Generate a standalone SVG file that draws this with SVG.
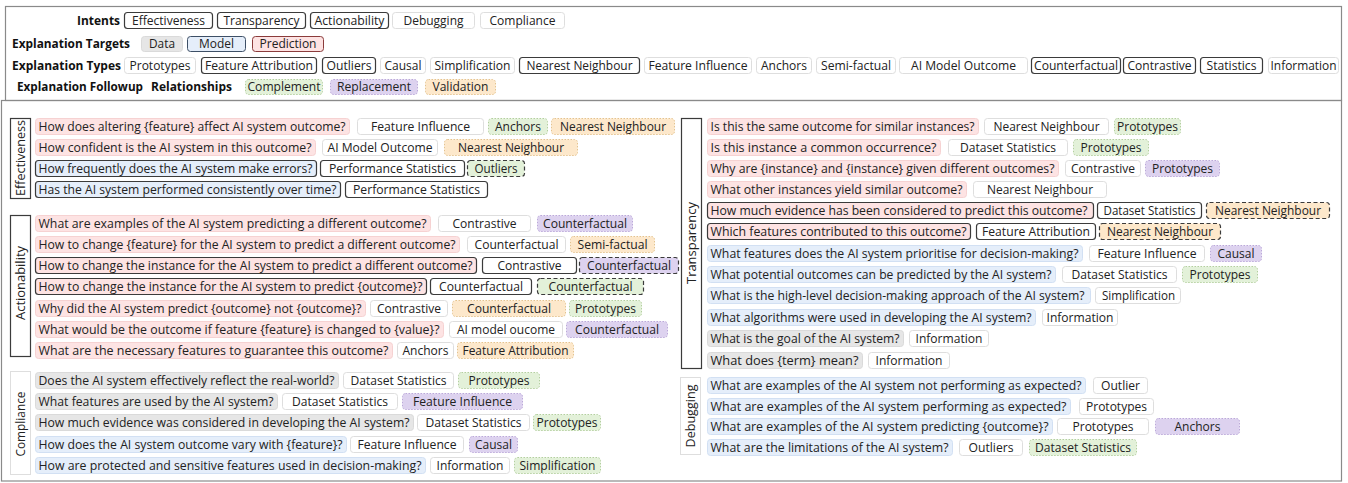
<svg xmlns="http://www.w3.org/2000/svg" width="1348" height="483" viewBox="0 0 1348 483">
<style>
rect{rx:3px;ry:3px;stroke-width:1}
rect.frame{fill:none;stroke:#8a8a8a;stroke-width:1.2;rx:0;ry:0}
rect.p{fill:#fde3e3;stroke:#f6d2d2}
rect.u{fill:#e5eefa;stroke:#d2e0f3}
rect.g{fill:#e6e6e6;stroke:#dadada}
rect.w{fill:#fff;stroke:#dedede}
rect.gr{fill:#e3f1d9;stroke:#b3cf9f;stroke-dasharray:1.5 1.5}
rect.pu{fill:#ddd2ef;stroke:#bba8d9;stroke-dasharray:1.5 1.5}
rect.or{fill:#fde8cb;stroke:#e4c38e;stroke-dasharray:1.5 1.5}
rect.dk{stroke:#3b3b3b;stroke-width:1.2}
rect.ds{stroke:#3b3b3b;stroke-width:1.2;stroke-dasharray:4 2.5}
rect.lbl{fill:#fff;rx:0;ry:0}
text{font-family:"Open Sans","Liberation Sans",sans-serif;font-size:13px;fill:#222}
text.c{text-anchor:middle}
text.b{font-weight:bold;fill:#111}
</style>
<rect class="frame" x="5.5" y="6.5" width="1336" height="94"/>
<rect class="frame" x="1.5" y="100.5" width="1340" height="380.5"/>
<g id="connectors"/>
<g id="legend">
<g id="legend-intents">
<text class="b" x="77" y="25" textLength="43" lengthAdjust="spacingAndGlyphs">Intents</text>
<rect class="w dk" x="124.5" y="12.5" width="88" height="16"/><text class="c" x="168.5" y="25" textLength="73" lengthAdjust="spacingAndGlyphs">Effectiveness</text>
<rect class="w dk" x="217.5" y="12.5" width="88" height="16"/><text class="c" x="261.5" y="25" textLength="76" lengthAdjust="spacingAndGlyphs">Transparency</text>
<rect class="w dk" x="310.5" y="12.5" width="78" height="16"/><text class="c" x="349.5" y="25" textLength="70" lengthAdjust="spacingAndGlyphs">Actionability</text>
<rect class="w" x="392.5" y="12.5" width="82" height="16"/><text class="c" x="433.5" y="25" textLength="60" lengthAdjust="spacingAndGlyphs">Debugging</text>
<rect class="w" x="480.5" y="12.5" width="84" height="16"/><text class="c" x="522.5" y="25" textLength="66" lengthAdjust="spacingAndGlyphs">Compliance</text>
</g>
<g id="legend-targets">
<text class="b" x="12" y="48" textLength="118" lengthAdjust="spacingAndGlyphs">Explanation Targets</text>
<rect class="g" x="141.5" y="36.5" width="41" height="15"/><text class="c" x="162" y="48" textLength="26" lengthAdjust="spacingAndGlyphs">Data</text>
<rect class="u" style="stroke:#3d4f66" x="187.5" y="36.5" width="58" height="15"/><text class="c" x="216.5" y="48" textLength="35" lengthAdjust="spacingAndGlyphs">Model</text>
<rect class="p" style="stroke:#8b3b3b" x="252.5" y="36.5" width="71" height="15"/><text class="c" x="288" y="48" textLength="57" lengthAdjust="spacingAndGlyphs">Prediction</text>
</g>
<g id="legend-types">
<text class="b" x="12" y="70" textLength="109" lengthAdjust="spacingAndGlyphs">Explanation Types</text>
<rect class="w" x="124.5" y="57.5" width="71" height="16"/><text class="c" x="160" y="70" textLength="61" lengthAdjust="spacingAndGlyphs">Prototypes</text>
<rect class="w dk" x="201.5" y="57.5" width="115" height="16"/><text class="c" x="259" y="70" textLength="108" lengthAdjust="spacingAndGlyphs">Feature Attribution</text>
<rect class="w dk" x="322.5" y="57.5" width="53" height="16"/><text class="c" x="349" y="70" textLength="45" lengthAdjust="spacingAndGlyphs">Outliers</text>
<rect class="w" x="380.5" y="57.5" width="45" height="16"/><text class="c" x="403" y="70" textLength="37" lengthAdjust="spacingAndGlyphs">Causal</text>
<rect class="w" x="430.5" y="57.5" width="84" height="16"/><text class="c" x="472.5" y="70" textLength="76" lengthAdjust="spacingAndGlyphs">Simplification</text>
<rect class="w dk" x="519.5" y="57.5" width="120" height="16"/><text class="c" x="579.5" y="70" textLength="106" lengthAdjust="spacingAndGlyphs">Nearest Neighbour</text>
<rect class="w" x="644.5" y="57.5" width="107" height="16"/><text class="c" x="698" y="70" textLength="99" lengthAdjust="spacingAndGlyphs">Feature Influence</text>
<rect class="w" x="756.5" y="57.5" width="55" height="16"/><text class="c" x="784" y="70" textLength="46" lengthAdjust="spacingAndGlyphs">Anchors</text>
<rect class="w" x="816.5" y="57.5" width="79" height="16"/><text class="c" x="856" y="70" textLength="70" lengthAdjust="spacingAndGlyphs">Semi-factual</text>
<rect class="w" x="899.5" y="57.5" width="128" height="16"/><text class="c" x="963.5" y="70" textLength="105" lengthAdjust="spacingAndGlyphs">AI Model Outcome</text>
<rect class="w dk" x="1031.5" y="57.5" width="89" height="16"/><text class="c" x="1076" y="70" textLength="84" lengthAdjust="spacingAndGlyphs">Counterfactual</text>
<rect class="w dk" x="1123.5" y="57.5" width="72" height="16"/><text class="c" x="1159.5" y="70" textLength="64" lengthAdjust="spacingAndGlyphs">Contrastive</text>
<rect class="w dk" x="1200.5" y="57.5" width="62" height="16"/><text class="c" x="1231.5" y="70" textLength="50" lengthAdjust="spacingAndGlyphs">Statistics</text>
<rect class="w" x="1268.5" y="57.5" width="70" height="16"/><text class="c" x="1303.5" y="70" textLength="66" lengthAdjust="spacingAndGlyphs">Information</text>
</g>
<g id="legend-followup">
<text class="b" x="17" y="91" textLength="126" lengthAdjust="spacingAndGlyphs">Explanation Followup</text>
<text class="b" x="151" y="91" textLength="81" lengthAdjust="spacingAndGlyphs">Relationships</text>
<rect class="gr" x="245.5" y="79.5" width="77" height="15"/><text class="c" x="284" y="91" textLength="73" lengthAdjust="spacingAndGlyphs">Complement</text>
<rect class="pu" x="330.5" y="79.5" width="87" height="15"/><text class="c" x="374" y="91" textLength="74" lengthAdjust="spacingAndGlyphs">Replacement</text>
<rect class="or" x="425.5" y="79.5" width="70" height="15"/><text class="c" x="460.5" y="91" textLength="56" lengthAdjust="spacingAndGlyphs">Validation</text>
</g>
</g>

<g id="effectiveness">
<g id="label-effectiveness"><rect class="lbl dk" x="10.5" y="118.5" width="20" height="80"/><text class="c" x="20.5" y="162.5" transform="rotate(-90 20.5 158)" textLength="76" lengthAdjust="spacingAndGlyphs">Effectiveness</text></g>
<g id="e1q"><rect class="p" x="35.5" y="118.5" width="314" height="16"/><text x="38.5" y="131" textLength="307" lengthAdjust="spacingAndGlyphs">How does altering {feature} affect AI system outcome?</text></g>
<g id="e1a"><rect class="w" x="357.5" y="118.5" width="126" height="16"/><text class="c" x="420.5" y="131" textLength="99" lengthAdjust="spacingAndGlyphs">Feature Influence</text></g>
<g id="e1b"><rect class="gr" x="488.5" y="118.5" width="59" height="16"/><text class="c" x="518" y="131" textLength="46" lengthAdjust="spacingAndGlyphs">Anchors</text></g>
<g id="e1c"><rect class="or" x="551.5" y="118.5" width="123" height="16"/><text class="c" x="613" y="131" textLength="106" lengthAdjust="spacingAndGlyphs">Nearest Neighbour</text></g>
<g id="e2q"><rect class="p" x="35.5" y="139.5" width="280" height="16"/><text x="38.5" y="152" textLength="273" lengthAdjust="spacingAndGlyphs">How confident is the AI system in this outcome?</text></g>
<g id="e2a"><rect class="w" x="322.5" y="139.5" width="115" height="16"/><text class="c" x="380" y="152" textLength="105" lengthAdjust="spacingAndGlyphs">AI Model Outcome</text></g>
<g id="e2b"><rect class="or" x="444.5" y="139.5" width="133" height="16"/><text class="c" x="511" y="152" textLength="106" lengthAdjust="spacingAndGlyphs">Nearest Neighbour</text></g>
<g id="e3q"><rect class="u dk" x="35.5" y="160.5" width="281" height="16"/><text x="38.5" y="173" textLength="274" lengthAdjust="spacingAndGlyphs">How frequently does the AI system make errors?</text></g>
<g id="e3a"><rect class="w dk" x="320.5" y="160.5" width="144" height="16"/><text class="c" x="392.5" y="173" textLength="127" lengthAdjust="spacingAndGlyphs">Performance Statistics</text></g>
<g id="e3b"><rect class="gr ds" x="467.5" y="160.5" width="57" height="16"/><text class="c" x="496" y="173" textLength="43" lengthAdjust="spacingAndGlyphs">Outliers</text></g>
<g id="e4q"><rect class="u dk" x="35.5" y="181.5" width="305" height="16"/><text x="38.5" y="194" textLength="298" lengthAdjust="spacingAndGlyphs">Has the AI system performed consistently over time?</text></g>
<g id="e4a"><rect class="w dk" x="345.5" y="181.5" width="142" height="16"/><text class="c" x="416.5" y="194" textLength="127" lengthAdjust="spacingAndGlyphs">Performance Statistics</text></g>
</g>

<g id="actionability">
<g id="label-actionability"><rect class="lbl dk" x="10.5" y="215.5" width="20" height="141"/><text class="c" x="20.5" y="287.5" transform="rotate(-90 20.5 283)" textLength="74" lengthAdjust="spacingAndGlyphs">Actionability</text></g>
<g id="a1q"><rect class="p" x="35.5" y="215.5" width="395" height="16"/><text x="38.5" y="228" textLength="388" lengthAdjust="spacingAndGlyphs">What are examples of the AI system predicting a different outcome?</text></g>
<g id="a1a"><rect class="w" x="438.5" y="215.5" width="92" height="16"/><text class="c" x="484.5" y="228" textLength="64" lengthAdjust="spacingAndGlyphs">Contrastive</text></g>
<g id="a1b"><rect class="pu" x="537.5" y="215.5" width="95" height="16"/><text class="c" x="585" y="228" textLength="84" lengthAdjust="spacingAndGlyphs">Counterfactual</text></g>
<g id="a2q"><rect class="p" x="35.5" y="236.5" width="424" height="16"/><text x="38.5" y="249" textLength="417" lengthAdjust="spacingAndGlyphs">How to change {feature} for the AI system to predict a different outcome?</text></g>
<g id="a2a"><rect class="w" x="467.5" y="236.5" width="98" height="16"/><text class="c" x="516.5" y="249" textLength="84" lengthAdjust="spacingAndGlyphs">Counterfactual</text></g>
<g id="a2b"><rect class="or" x="570.5" y="236.5" width="84" height="16"/><text class="c" x="612.5" y="249" textLength="70" lengthAdjust="spacingAndGlyphs">Semi-factual</text></g>
<g id="a3q"><rect class="p dk" x="35.5" y="257.5" width="441" height="16"/><text x="38.5" y="270" textLength="434" lengthAdjust="spacingAndGlyphs">How to change the instance for the AI system to predict a different outcome?</text></g>
<g id="a3a"><rect class="w dk" x="482.5" y="257.5" width="94" height="16"/><text class="c" x="529.5" y="270" textLength="64" lengthAdjust="spacingAndGlyphs">Contrastive</text></g>
<g id="a3b"><rect class="pu ds" x="579.5" y="257.5" width="99" height="16"/><text class="c" x="629" y="270" textLength="84" lengthAdjust="spacingAndGlyphs">Counterfactual</text></g>
<g id="a4q"><rect class="p dk" x="35.5" y="278.5" width="391" height="16"/><text x="38.5" y="291" textLength="384" lengthAdjust="spacingAndGlyphs">How to change the instance for the AI system to predict {outcome}?</text></g>
<g id="a4a"><rect class="w dk" x="430.5" y="278.5" width="101" height="16"/><text class="c" x="481" y="291" textLength="84" lengthAdjust="spacingAndGlyphs">Counterfactual</text></g>
<g id="a4b"><rect class="gr ds" x="537.5" y="278.5" width="106" height="16"/><text class="c" x="590.5" y="291" textLength="84" lengthAdjust="spacingAndGlyphs">Counterfactual</text></g>
<g id="a5q"><rect class="p" x="35.5" y="300.5" width="330" height="16"/><text x="38.5" y="313" textLength="323" lengthAdjust="spacingAndGlyphs">Why did the AI system predict {outcome} not {outcome}?</text></g>
<g id="a5a"><rect class="w" x="370.5" y="300.5" width="77" height="16"/><text class="c" x="409" y="313" textLength="64" lengthAdjust="spacingAndGlyphs">Contrastive</text></g>
<g id="a5b"><rect class="or" x="452.5" y="300.5" width="113" height="16"/><text class="c" x="509" y="313" textLength="84" lengthAdjust="spacingAndGlyphs">Counterfactual</text></g>
<g id="a5c"><rect class="gr" x="569.5" y="300.5" width="72" height="16"/><text class="c" x="605.5" y="313" textLength="61" lengthAdjust="spacingAndGlyphs">Prototypes</text></g>
<g id="a6q"><rect class="p" x="35.5" y="321.5" width="408" height="16"/><text x="38.5" y="334" textLength="401" lengthAdjust="spacingAndGlyphs">What would be the outcome if feature {feature} is changed to {value}?</text></g>
<g id="a6a"><rect class="w" x="449.5" y="321.5" width="113" height="16"/><text class="c" x="506" y="334" textLength="98" lengthAdjust="spacingAndGlyphs">AI model oucome</text></g>
<g id="a6b"><rect class="pu" x="566.5" y="321.5" width="101" height="16"/><text class="c" x="617" y="334" textLength="84" lengthAdjust="spacingAndGlyphs">Counterfactual</text></g>
<g id="a7q"><rect class="p" x="35.5" y="342.5" width="357" height="16"/><text x="38.5" y="355" textLength="350" lengthAdjust="spacingAndGlyphs">What are the necessary features to guarantee this outcome?</text></g>
<g id="a7a"><rect class="w" x="397.5" y="342.5" width="56" height="16"/><text class="c" x="425.5" y="355" textLength="46" lengthAdjust="spacingAndGlyphs">Anchors</text></g>
<g id="a7b"><rect class="or" x="457.5" y="342.5" width="116" height="16"/><text class="c" x="515.5" y="355" textLength="106" lengthAdjust="spacingAndGlyphs">Feature Attribution</text></g>
</g>

<g id="compliance">
<g id="label-compliance"><rect class="lbl w" x="10.5" y="371.5" width="20" height="103"/><text class="c" x="20.5" y="428.5" transform="rotate(-90 20.5 424)" textLength="65" lengthAdjust="spacingAndGlyphs">Compliance</text></g>
<g id="c1q"><rect class="g" x="35.5" y="372.5" width="303" height="16"/><text x="38.5" y="385" textLength="296" lengthAdjust="spacingAndGlyphs">Does the AI system effectively reflect the real-world?</text></g>
<g id="c1a"><rect class="w" x="343.5" y="372.5" width="110" height="16"/><text class="c" x="398.5" y="385" textLength="96" lengthAdjust="spacingAndGlyphs">Dataset Statistics</text></g>
<g id="c1b"><rect class="gr" x="458.5" y="372.5" width="81" height="16"/><text class="c" x="499" y="385" textLength="61" lengthAdjust="spacingAndGlyphs">Prototypes</text></g>
<g id="c2q"><rect class="g" x="35.5" y="393.5" width="242" height="16"/><text x="38.5" y="406" textLength="235" lengthAdjust="spacingAndGlyphs">What features are used by the AI system?</text></g>
<g id="c2a"><rect class="w" x="282.5" y="393.5" width="115" height="16"/><text class="c" x="340" y="406" textLength="96" lengthAdjust="spacingAndGlyphs">Dataset Statistics</text></g>
<g id="c2b"><rect class="pu" x="402.5" y="393.5" width="120" height="16"/><text class="c" x="462.5" y="406" textLength="99" lengthAdjust="spacingAndGlyphs">Feature Influence</text></g>
<g id="c3q"><rect class="g" x="35.5" y="414.5" width="378" height="16"/><text x="38.5" y="427" textLength="371" lengthAdjust="spacingAndGlyphs">How much evidence was considered in developing the AI system?</text></g>
<g id="c3a"><rect class="w" x="417.5" y="414.5" width="112" height="16"/><text class="c" x="473.5" y="427" textLength="96" lengthAdjust="spacingAndGlyphs">Dataset Statistics</text></g>
<g id="c3b"><rect class="gr" x="533.5" y="414.5" width="67" height="16"/><text class="c" x="567" y="427" textLength="61" lengthAdjust="spacingAndGlyphs">Prototypes</text></g>
<g id="c4q"><rect class="u" x="35.5" y="436.5" width="311" height="16"/><text x="38.5" y="449" textLength="304" lengthAdjust="spacingAndGlyphs">How does the AI system outcome vary with {feature}?</text></g>
<g id="c4a"><rect class="w" x="350.5" y="436.5" width="113" height="16"/><text class="c" x="407" y="449" textLength="99" lengthAdjust="spacingAndGlyphs">Feature Influence</text></g>
<g id="c4b"><rect class="pu" x="469.5" y="436.5" width="48" height="16"/><text class="c" x="493.5" y="449" textLength="37" lengthAdjust="spacingAndGlyphs">Causal</text></g>
<g id="c5q"><rect class="u" x="35.5" y="457.5" width="390" height="16"/><text x="38.5" y="470" textLength="383" lengthAdjust="spacingAndGlyphs">How are protected and sensitive features used in decision-making?</text></g>
<g id="c5a"><rect class="w" x="430.5" y="457.5" width="79" height="16"/><text class="c" x="470" y="470" textLength="67" lengthAdjust="spacingAndGlyphs">Information</text></g>
<g id="c5b"><rect class="gr" x="514.5" y="457.5" width="86" height="16"/><text class="c" x="557.5" y="470" textLength="76" lengthAdjust="spacingAndGlyphs">Simplification</text></g>
</g>

<g id="transparency">
<g id="label-transparency"><rect class="lbl dk" x="681.5" y="118.5" width="20" height="250"/><text class="c" x="691.5" y="247.5" transform="rotate(-90 691.5 243)" textLength="82" lengthAdjust="spacingAndGlyphs">Transparency</text></g>
<g id="t1q"><rect class="p" x="707.5" y="118.5" width="271" height="16"/><text x="710.5" y="131" textLength="264" lengthAdjust="spacingAndGlyphs">Is this the same outcome for similar instances?</text></g>
<g id="t1a"><rect class="w" x="984.5" y="118.5" width="124" height="16"/><text class="c" x="1046.5" y="131" textLength="106" lengthAdjust="spacingAndGlyphs">Nearest Neighbour</text></g>
<g id="t1b"><rect class="gr" x="1114.5" y="118.5" width="66" height="16"/><text class="c" x="1147.5" y="131" textLength="61" lengthAdjust="spacingAndGlyphs">Prototypes</text></g>
<g id="t2q"><rect class="p" x="707.5" y="139.5" width="233" height="16"/><text x="710.5" y="152" textLength="226" lengthAdjust="spacingAndGlyphs">Is this instance a common occurrence?</text></g>
<g id="t2a"><rect class="w" x="948.5" y="139.5" width="119" height="16"/><text class="c" x="1008" y="152" textLength="96" lengthAdjust="spacingAndGlyphs">Dataset Statistics</text></g>
<g id="t2b"><rect class="gr" x="1073.5" y="139.5" width="75" height="16"/><text class="c" x="1111" y="152" textLength="61" lengthAdjust="spacingAndGlyphs">Prototypes</text></g>
<g id="t3q"><rect class="p" x="707.5" y="160.5" width="351" height="16"/><text x="710.5" y="173" textLength="344" lengthAdjust="spacingAndGlyphs">Why are {instance} and {instance} given different outcomes?</text></g>
<g id="t3a"><rect class="w" x="1065.5" y="160.5" width="75" height="16"/><text class="c" x="1103" y="173" textLength="64" lengthAdjust="spacingAndGlyphs">Contrastive</text></g>
<g id="t3b"><rect class="pu" x="1145.5" y="160.5" width="74" height="16"/><text class="c" x="1182.5" y="173" textLength="61" lengthAdjust="spacingAndGlyphs">Prototypes</text></g>
<g id="t4q"><rect class="p" x="707.5" y="181.5" width="259" height="16"/><text x="710.5" y="194" textLength="252" lengthAdjust="spacingAndGlyphs">What other instances yield similar outcome?</text></g>
<g id="t4a"><rect class="w" x="973.5" y="181.5" width="133" height="16"/><text class="c" x="1040" y="194" textLength="106" lengthAdjust="spacingAndGlyphs">Nearest Neighbour</text></g>
<g id="t5q"><rect class="p dk" x="707.5" y="202.5" width="386" height="16"/><text x="710.5" y="215" textLength="377" lengthAdjust="spacingAndGlyphs">How much evidence has been considered to predict this outcome?</text></g>
<g id="t5a"><rect class="w dk" x="1097.5" y="202.5" width="104" height="16"/><text class="c" x="1149.5" y="215" textLength="92" lengthAdjust="spacingAndGlyphs">Dataset Statistics</text></g>
<g id="t5b"><rect class="or ds" x="1206.5" y="202.5" width="123" height="16"/><text class="c" x="1268" y="215" textLength="106" lengthAdjust="spacingAndGlyphs">Nearest Neighbour</text></g>
<g id="t6q"><rect class="p dk" x="707.5" y="223.5" width="263" height="16"/><text x="710.5" y="236" textLength="256" lengthAdjust="spacingAndGlyphs">Which features contributed to this outcome?</text></g>
<g id="t6a"><rect class="w dk" x="976.5" y="223.5" width="119" height="16"/><text class="c" x="1036" y="236" textLength="108" lengthAdjust="spacingAndGlyphs">Feature Attribution</text></g>
<g id="t6b"><rect class="or ds" x="1099.5" y="223.5" width="121" height="16"/><text class="c" x="1160" y="236" textLength="106" lengthAdjust="spacingAndGlyphs">Nearest Neighbour</text></g>
<g id="t7q"><rect class="u" x="707.5" y="245.5" width="375" height="16"/><text x="710.5" y="258" textLength="368" lengthAdjust="spacingAndGlyphs">What features does the AI system prioritise for decision-making?</text></g>
<g id="t7a"><rect class="w" x="1089.5" y="245.5" width="115" height="16"/><text class="c" x="1147" y="258" textLength="99" lengthAdjust="spacingAndGlyphs">Feature Influence</text></g>
<g id="t7b"><rect class="pu" x="1210.5" y="245.5" width="51" height="16"/><text class="c" x="1236" y="258" textLength="37" lengthAdjust="spacingAndGlyphs">Causal</text></g>
<g id="t8q"><rect class="u" x="707.5" y="266.5" width="348" height="16"/><text x="710.5" y="279" textLength="341" lengthAdjust="spacingAndGlyphs">What potential outcomes can be predicted by the AI system?</text></g>
<g id="t8a"><rect class="w" x="1062.5" y="266.5" width="114" height="16"/><text class="c" x="1119.5" y="279" textLength="96" lengthAdjust="spacingAndGlyphs">Dataset Statistics</text></g>
<g id="t8b"><rect class="gr" x="1182.5" y="266.5" width="75" height="16"/><text class="c" x="1220" y="279" textLength="61" lengthAdjust="spacingAndGlyphs">Prototypes</text></g>
<g id="t9q"><rect class="u" x="707.5" y="287.5" width="383" height="16"/><text x="710.5" y="300" textLength="374" lengthAdjust="spacingAndGlyphs">What is the high-level decision-making approach of the AI system?</text></g>
<g id="t9a"><rect class="w" x="1095.5" y="287.5" width="85" height="16"/><text class="c" x="1138.5" y="300" textLength="73" lengthAdjust="spacingAndGlyphs">Simplification</text></g>
<g id="t10q"><rect class="u" x="707.5" y="309.5" width="328" height="16"/><text x="710.5" y="322" textLength="321" lengthAdjust="spacingAndGlyphs">What algorithms were used in developing the AI system?</text></g>
<g id="t10a"><rect class="w" x="1042.5" y="309.5" width="75" height="16"/><text class="c" x="1080" y="322" textLength="67" lengthAdjust="spacingAndGlyphs">Information</text></g>
<g id="t11q"><rect class="g" x="707.5" y="330.5" width="196" height="16"/><text x="710.5" y="343" textLength="189" lengthAdjust="spacingAndGlyphs">What is the goal of the AI system?</text></g>
<g id="t11a"><rect class="w" x="909.5" y="330.5" width="79" height="16"/><text class="c" x="949" y="343" textLength="67" lengthAdjust="spacingAndGlyphs">Information</text></g>
<g id="t12q"><rect class="g" x="707.5" y="352.5" width="155" height="16"/><text x="710.5" y="365" textLength="148" lengthAdjust="spacingAndGlyphs">What does {term} mean?</text></g>
<g id="t12a"><rect class="w" x="868.5" y="352.5" width="81" height="16"/><text class="c" x="909" y="365" textLength="67" lengthAdjust="spacingAndGlyphs">Information</text></g>
</g>

<g id="debugging">
<g id="label-debugging"><rect class="lbl w" x="680.5" y="377.5" width="20" height="77"/><text class="c" x="690.5" y="420.5" transform="rotate(-90 690.5 416)" textLength="63" lengthAdjust="spacingAndGlyphs">Debugging</text></g>
<g id="d1q"><rect class="u" x="707.5" y="377.5" width="378" height="16"/><text x="710.5" y="390" textLength="371" lengthAdjust="spacingAndGlyphs">What are examples of the AI system not performing as expected?</text></g>
<g id="d1a"><rect class="w" x="1093.5" y="377.5" width="54" height="16"/><text class="c" x="1120.5" y="390" textLength="39" lengthAdjust="spacingAndGlyphs">Outlier</text></g>
<g id="d2q"><rect class="u" x="707.5" y="398.5" width="363" height="16"/><text x="710.5" y="411" textLength="356" lengthAdjust="spacingAndGlyphs">What are examples of the AI system performing as expected?</text></g>
<g id="d2a"><rect class="w" x="1079.5" y="398.5" width="74" height="16"/><text class="c" x="1116.5" y="411" textLength="61" lengthAdjust="spacingAndGlyphs">Prototypes</text></g>
<g id="d3q"><rect class="u" x="707.5" y="418.5" width="345" height="16"/><text x="710.5" y="431" textLength="338" lengthAdjust="spacingAndGlyphs">What are examples of the AI system predicting {outcome}?</text></g>
<g id="d3a"><rect class="w" x="1057.5" y="418.5" width="91" height="16"/><text class="c" x="1103" y="431" textLength="61" lengthAdjust="spacingAndGlyphs">Prototypes</text></g>
<g id="d3b"><rect class="pu" x="1155.5" y="418.5" width="84" height="16"/><text class="c" x="1197.5" y="431" textLength="46" lengthAdjust="spacingAndGlyphs">Anchors</text></g>
<g id="d4q"><rect class="u" x="707.5" y="439.5" width="245" height="16"/><text x="710.5" y="452" textLength="238" lengthAdjust="spacingAndGlyphs">What are the limitations of the AI system?</text></g>
<g id="d4a"><rect class="w" x="959.5" y="439.5" width="63" height="16"/><text class="c" x="991" y="452" textLength="45" lengthAdjust="spacingAndGlyphs">Outliers</text></g>
<g id="d4b"><rect class="gr" x="1029.5" y="439.5" width="107" height="16"/><text class="c" x="1083" y="452" textLength="96" lengthAdjust="spacingAndGlyphs">Dataset Statistics</text></g>
</g>
</svg>
